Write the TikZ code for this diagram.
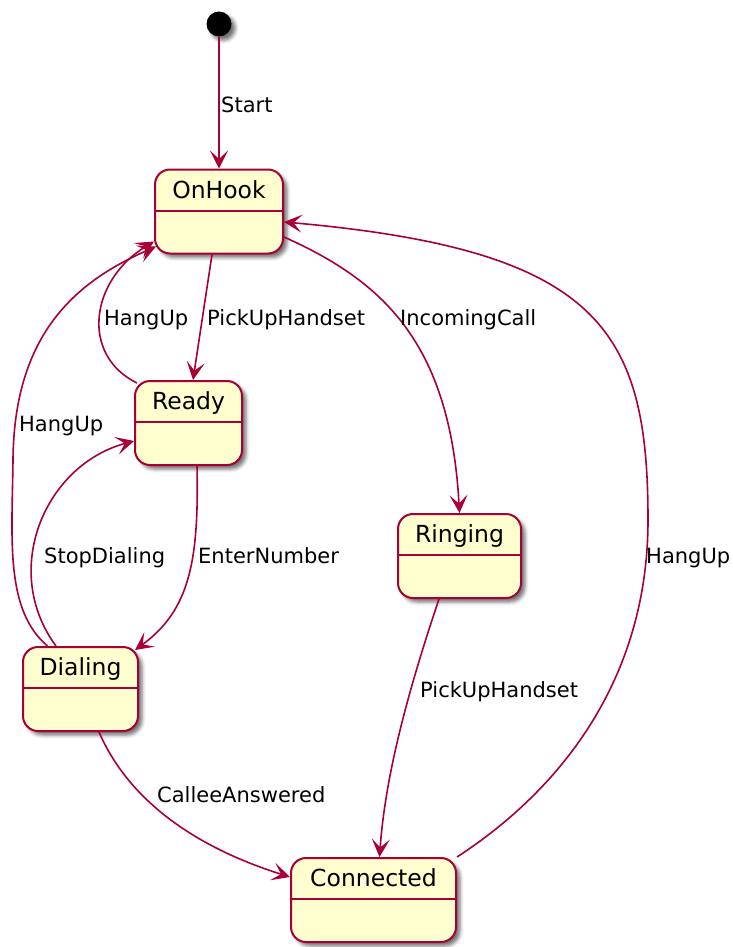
\documentclass[tikz,border=0pt]{standalone}
\usepackage{fontspec}
\setmainfont{DejaVu Sans}
\usetikzlibrary{arrows.meta,shadows.blur}
\definecolor{stateFill}{HTML}{FEFECE}
\definecolor{stateLine}{HTML}{A80036}

\begin{document}
\begin{tikzpicture}[x=1pt,y=-1pt]
  \tikzset{softshadow/.style={blur shadow={shadow xshift=4pt,shadow yshift=-4pt,shadow blur radius=3.5pt,shadow opacity=55}},
    initstate/.style={circle, fill=black, minimum size=25pt, inner sep=0pt, softshadow},
    statebox/.style={draw=stateLine, fill=stateFill, line width=2pt, rounded corners=15pt, minimum height=84pt, inner sep=0pt, softshadow},
    statename/.style={anchor=base, inner sep=0pt, font=\fontsize{23.5}{26}\selectfont},
    trans/.style={draw=stateLine, line width=1.6pt, -{Stealth[length=18pt,width=18pt,inset=8.5pt]}},
    translabel/.style={anchor=base west, inner sep=0pt, font=\fontsize{21}{24}\selectfont}}
  \useasboundingbox (0,0) rectangle (732,947);
  \node[initstate] (init) at (219,24) {};
  \foreach \name/\title/\x/\y/\w in {onhook/OnHook/219/211.5/128, ready/Ready/188.5/423/107,
      ringing/Ringing/459.5/556/123, dialing/Dialing/80.5/689/115, connected/Connected/373.5/900/165} {
    \node[statebox, minimum width=\w pt] (\name) at (\x,\y) {};
    \node[statename] (\name-title) at ([yshift=-29.5pt]\name.north) {\title};
    \draw[stateLine, line width=2pt] ([yshift=-42pt]\name.north west) -- ([yshift=-42pt]\name.north east);
  }
  \draw[trans] (init) -- (onhook);
  \draw[trans] ([xshift=-7pt]onhook.south) -- ([xshift=4.5pt]ready.north);
  \draw[trans] ([xshift=3pt,yshift=-3pt]ready.north west) .. controls (80,355) and (90,280) .. ([yshift=-30pt]onhook.west);
  \draw[trans] ([xshift=-33pt]dialing.north) .. controls (5,610) and (12,540) .. (13,460)
    .. controls (14,330) and (80,280) .. ([xshift=2pt,yshift=-35pt]onhook.west);
  \draw[trans] ([xshift=-24.5pt]dialing.north) .. controls (0,570) and (45,465) .. ([yshift=-18pt]ready.west);
  \draw[trans] ([xshift=8.5pt]ready.south) .. controls (199,560) and (190,610) .. ([xshift=-4pt,yshift=-4pt]dialing.north east);
  \draw[trans] ([yshift=-25.5pt]onhook.east) .. controls (380,280) and (450,340) .. (ringing.north);
  \draw[trans] ([xshift=-20.5pt]ringing.south) .. controls (405,700) and (385,780) .. ([xshift=6pt]connected.north);
  \draw[trans] ([xshift=18.5pt]dialing.south) .. controls (135,815) and (220,855) .. ([yshift=23pt]connected.west);
  \draw[trans] (connected.north east) .. controls (560,790) and (648,680) .. (648,520)
    .. controls (648,330) and (600,250) .. ([yshift=-10.5pt]onhook.east);
  \node[translabel] (lbl-start) at (221,113) {Start};
  \node[translabel] (lbl-pickup) at (207,325.5) {PickUpHandset};
  \node[translabel] (lbl-hangup-ready) at (104,325.5) {HangUp};
  \node[translabel] (lbl-incoming) at (400,325.5) {IncomingCall};
  \node[translabel] (lbl-hangup-dialing) at (19,431.5) {HangUp};
  \node[translabel] (lbl-stop) at (44,563.5) {StopDialing};
  \node[translabel] (lbl-enter) at (198,563.5) {EnterNumber};
  \node[translabel] (lbl-hangup-connected) at (646,563.5) {HangUp};
  \node[translabel] (lbl-pickup-ringing) at (420,697.5) {PickUpHandset};
  \node[translabel] (lbl-answered) at (157,802.5) {CalleeAnswered};
\end{tikzpicture}
\end{document}
